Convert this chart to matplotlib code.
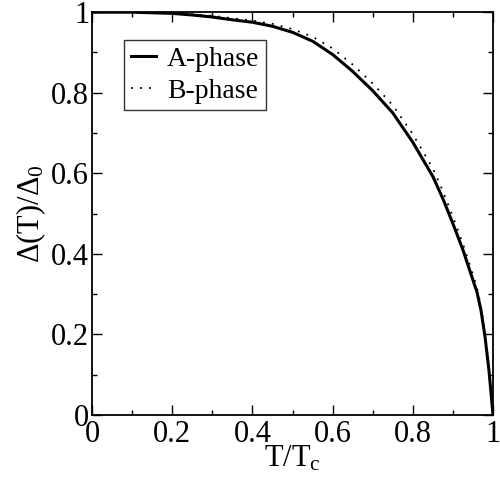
import numpy as np
import matplotlib
matplotlib.use('Agg')
import matplotlib.pyplot as plt
from matplotlib.ticker import MultipleLocator

plt.rcParams['font.family'] = 'Liberation Serif'
plt.rcParams['mathtext.fontset'] = 'custom'
plt.rcParams['mathtext.rm'] = 'Liberation Serif'
plt.rcParams['mathtext.it'] = 'Liberation Serif:italic'

# gap curves
t = [0.0, 0.1, 0.2, 0.25, 0.3, 0.35, 0.4, 0.45, 0.5, 0.55, 0.6, 0.65, 0.7,
     0.75, 0.8, 0.85, 0.875, 0.9, 0.925, 0.95, 0.96, 0.97, 0.98, 0.99, 1.0]
gap_a = [1.0, 1.0, 0.997, 0.993, 0.988, 0.981, 0.975, 0.965, 0.950, 0.928,
         0.895, 0.853, 0.805, 0.750, 0.677, 0.592, 0.537, 0.475, 0.41,
         0.335, 0.305, 0.26, 0.195, 0.11, 0.0]
gap_b = [1.0, 1.0, 0.998, 0.995, 0.991, 0.985, 0.979, 0.971, 0.958, 0.939,
         0.910, 0.870, 0.823, 0.769, 0.697, 0.612, 0.556, 0.492, 0.425,
         0.348, 0.316, 0.27, 0.203, 0.115, 0.0]

ticks = [0, 0.2, 0.4, 0.6, 0.8, 1.0]
tick_labels = ['0', '0.2', '0.4', '0.6', '0.8', '1']

fig = plt.figure(figsize=(5.0, 4.87), dpi=100)
ax = fig.add_axes([0.184, 0.148, 0.802, 0.827])

ax.plot(t, gap_a, color='black', lw=2.2, label='A-phase')
ax.plot(t, gap_b, color='black', lw=1.3, linestyle=(0, (1, 4)), label='B-phase')

ax.set_xlim(0, 1)
ax.set_ylim(0, 1)
ax.set_xticks(ticks)
ax.set_xticklabels(tick_labels)
ax.set_yticks(ticks)
ax.set_yticklabels(tick_labels)
ax.xaxis.set_minor_locator(MultipleLocator(0.1))
ax.yaxis.set_minor_locator(MultipleLocator(0.1))
ax.tick_params(which='both', direction='in', top=True, right=True,
               labelsize=22, width=1)
ax.tick_params(which='major', length=7)
ax.tick_params(which='minor', length=3.5)
ax.tick_params(axis='y', pad=2)
ax.tick_params(axis='x', pad=4)
for s in ax.spines.values():
    s.set_linewidth(1.3)

ax.set_xlabel(r'T/T$_\mathrm{c}$', fontsize=22, labelpad=-4)
ax.set_ylabel(r'$\Delta$(T)/$\Delta_0$', fontsize=22, labelpad=2)

leg = ax.legend(loc='upper left', bbox_to_anchor=(0.08, 0.932), fontsize=20,
                frameon=True, fancybox=False, handlelength=0.9,
                handletextpad=0.4, borderpad=0.25, labelspacing=0.22,
                borderaxespad=0)
leg.get_frame().set_edgecolor('black')
leg.get_frame().set_linewidth(1.0)

plt.savefig('out.png', dpi=100)
